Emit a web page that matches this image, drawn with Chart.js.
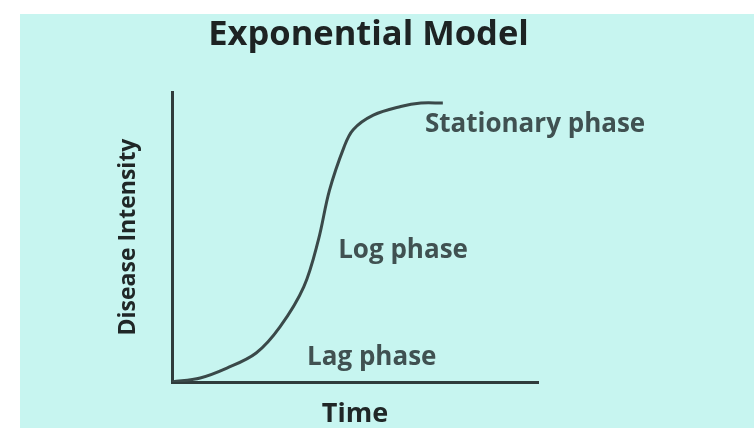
<!DOCTYPE html>
<html><head><meta charset="utf-8">
<script src="https://cdn.jsdelivr.net/npm/chart.js@4/dist/chart.umd.min.js"></script>
<style>html,body{margin:0;padding:0;background:#fff;}canvas{display:block;}</style>
</head><body>
<canvas id="c" width="754" height="428"></canvas>
<script>
const chartTitle = 'Exponential Model';
const xAxisTitle = 'Time';
const yAxisTitle = 'Disease Intensity';
const timeVals      = [0, 0.77, 1.5, 2.3, 2.95, 3.6, 4.0, 4.3, 4.7, 4.95, 5.5, 6.25, 6.8, 7.4];
const intensityVals = [0, 1.4, 4.8, 10, 19, 32.8, 49, 66, 81, 87, 92, 95, 96.2, 96.2];
const phaseLabels = ['Lag phase', 'Log phase', 'Stationary phase'];
const phaseX = [3.69, 4.54, 6.91];
const phaseY = [5.9, 42.8, 86.2];

const points = timeVals.map((t, i) => ({x: t, y: intensityVals[i]}));

const bgPlugin = {
  id: 'bg',
  beforeDraw(chart) {
    const ctx = chart.ctx;
    ctx.save();
    ctx.fillStyle = '#ffffff';
    ctx.fillRect(0, 0, chart.width, chart.height);
    ctx.fillStyle = '#c7f5f0';
    ctx.fillRect(20, 14, chart.width - 20, chart.height - 14);
    ctx.restore();
  }
};

const phasePlugin = {
  id: 'phases',
  afterDatasetsDraw(chart) {
    const ctx = chart.ctx;
    const xs = chart.scales.x, ys = chart.scales.y;
    ctx.save();
    ctx.font = 'bold 26px "Open Sans"';
    ctx.fillStyle = '#405151';
    ctx.textAlign = 'left';
    ctx.textBaseline = 'alphabetic';
    phaseLabels.forEach((lbl, i) => {
      ctx.fillText(lbl, xs.getPixelForValue(phaseX[i]), ys.getPixelForValue(phaseY[i]));
    });
    ctx.restore();
  }
};

new Chart(document.getElementById('c'), {
  type: 'line',
  data: {
    datasets: [{
      data: points,
      borderColor: '#3a4949',
      borderWidth: 3,
      pointRadius: 0,
      fill: false,
      tension: 0.35
    }]
  },
  options: {
    responsive: false,
    animation: false,
    layout: {padding: {left: 0, right: 17, top: 0, bottom: 0}},
    plugins: {
      legend: {display: false},
      tooltip: {enabled: false},
      title: {
        display: true,
        text: chartTitle,
        color: '#1d2323',
        font: {family: 'Open Sans', size: 34.5, weight: 'bold', lineHeight: 1.2},
        padding: {top: 14, bottom: 36.6}
      }
    },
    scales: {
      x: {
        type: 'linear', min: 0, max: 10,
        grid: {display: false},
        ticks: {display: false},
        border: {display: true, color: '#2f3c3c', width: 3},
        title: {display: true, text: xAxisTitle, color: '#202727',
          font: {family: 'Open Sans', size: 27, weight: 'bold', lineHeight: 1},
          padding: {top: 0, bottom: 0}},
        afterFit(s) { s.height = 46; }
      },
      y: {
        type: 'linear', min: 0, max: 100, position: 'left',
        grid: {display: false},
        ticks: {display: false},
        border: {display: true, color: '#2f3c3c', width: 3},
        title: {display: true, text: yAxisTitle, color: '#202727',
          font: {family: 'Open Sans', size: 23, weight: 'bold', lineHeight: 1.2},
          padding: {top: 115, bottom: 0}},
        afterFit(s) { s.width = 172; }
      },
      y2: {
        type: 'linear', position: 'right', min: 0, max: 100,
        grid: {display: false},
        ticks: {display: false},
        border: {display: false},
        afterFit(s) { s.width = 199; }
      }
    }
  },
  plugins: [bgPlugin, phasePlugin]
});
</script>
</body></html>
